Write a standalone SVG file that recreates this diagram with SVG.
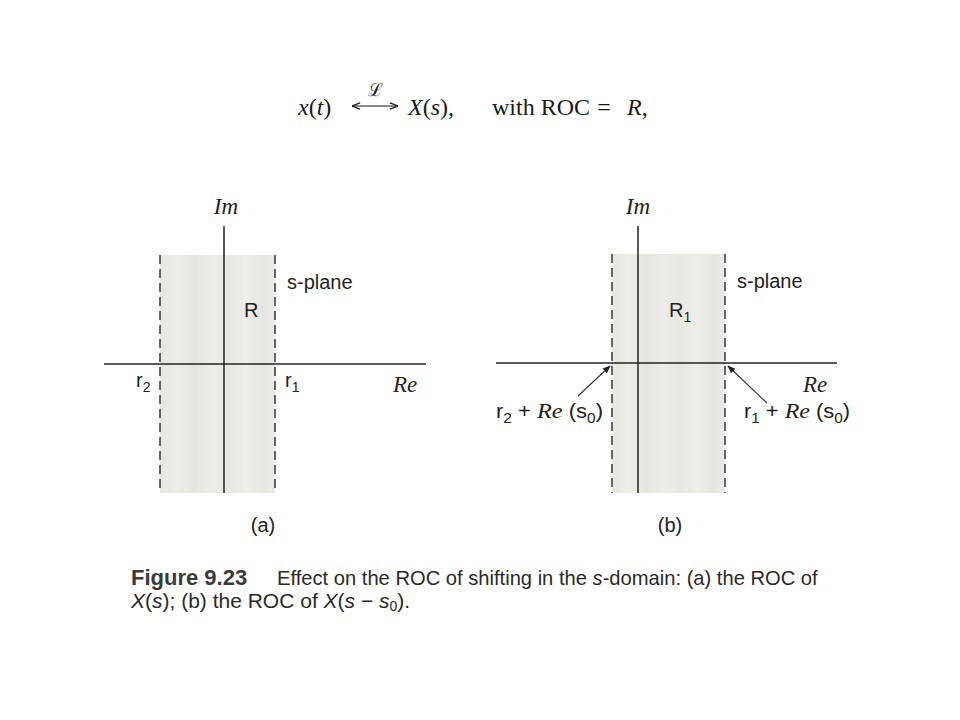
<svg xmlns="http://www.w3.org/2000/svg" width="960" height="720" viewBox="0 0 960 720">
<style>
.serif{font-family:"Liberation Serif","Times New Roman",serif;fill:#1a1a1a}
.it{font-style:italic}
.sans{font-family:"Liberation Sans",Arial,sans-serif;fill:#222}
.lbl{font-size:20px}
.axis{stroke:#222;stroke-width:1.5;fill:none}
.dash{stroke:#2a2a2a;stroke-width:1.4;stroke-dasharray:9 5;fill:none}
.scr{font-family:"Liberation Serif","DejaVu Serif",serif;font-style:italic;font-size:23px;fill:#222}
.ptr{stroke:#333;stroke-width:1.1;fill:none}
.cap{font-family:"Liberation Sans",Arial,sans-serif;font-size:21px;fill:#2a2a2a}
</style>
<defs>
<linearGradient id="shade" x1="0" y1="0" x2="1" y2="0">
<stop offset="0" stop-color="#e6e6e2"/>
<stop offset="0.15" stop-color="#eeeee8"/>
<stop offset="0.3" stop-color="#e4e4e0"/>
<stop offset="0.45" stop-color="#ececea"/>
<stop offset="0.6" stop-color="#e8e8e2"/>
<stop offset="0.75" stop-color="#eeeee9"/>
<stop offset="0.9" stop-color="#e5e5e2"/>
<stop offset="1" stop-color="#ebebe6"/>
</linearGradient>
<marker id="ah" viewBox="0 0 10 10" refX="9" refY="5" markerWidth="8" markerHeight="8" orient="auto-start-reverse" markerUnits="userSpaceOnUse">
<path d="M0,1 L10,5 L0,9 z" fill="#222"/>
</marker>
<marker id="open" viewBox="0 0 10 10" refX="10" refY="5" markerWidth="9" markerHeight="9" orient="auto-start-reverse" markerUnits="userSpaceOnUse">
<path d="M1,1.5 L10,5 L1,8.5" fill="none" stroke="#1a1a1a" stroke-width="1.3"/>
</marker>
</defs>
<rect width="960" height="720" fill="#ffffff"/>

<g id="equation">
<text class="serif" font-size="24" x="298" y="115"><tspan class="it">x</tspan>(<tspan class="it">t</tspan>)</text>
<path d="M352,106 H398" stroke="#1a1a1a" stroke-width="1.2" fill="none" marker-start="url(#open)" marker-end="url(#open)"/>
<text x="375" y="96" font-size="18" text-anchor="middle" font-family="DejaVu Serif,serif" fill="#1a1a1a">ℒ</text>
<text class="serif" font-size="24" x="408" y="115"><tspan class="it">X</tspan>(<tspan class="it">s</tspan>),</text>
<text class="serif" font-size="24" x="492" y="115">with ROC</text>
<text class="serif" font-size="24" x="604" y="115" text-anchor="middle">=</text>
<text class="serif" font-size="24" x="627" y="115"><tspan class="it">R</tspan>,</text>
</g>

<g id="panel-a">
<rect x="160" y="255" width="115" height="238" fill="url(#shade)"/>
<line class="axis" x1="224" y1="226" x2="224" y2="493"/>
<line class="axis" x1="104" y1="364" x2="426" y2="364"/>
<line class="dash" x1="160" y1="255" x2="160" y2="493"/>
<line class="dash" x1="275" y1="255" x2="275" y2="493"/>
<text class="scr" x="226" y="214" text-anchor="middle">Im</text>
<text class="sans lbl" x="287" y="289">s-plane</text>
<text class="sans lbl" x="244" y="317">R</text>
<text class="sans lbl" x="136" y="387">r<tspan font-size="14" dy="5">2</tspan></text>
<text class="sans lbl" x="285" y="387">r<tspan font-size="14" dy="5">1</tspan></text>
<text class="scr" x="393" y="392">Re</text>
<text class="sans lbl" x="263" y="532" text-anchor="middle">(a)</text>
</g>

<g id="panel-b">
<rect x="612" y="254" width="113" height="239" fill="url(#shade)"/>
<line class="axis" x1="638" y1="226" x2="638" y2="493"/>
<line class="axis" x1="496" y1="363" x2="837" y2="363"/>
<line class="dash" x1="612" y1="254" x2="612" y2="493"/>
<line class="dash" x1="725" y1="254" x2="725" y2="493"/>
<text class="scr" x="638" y="214" text-anchor="middle">Im</text>
<text class="sans lbl" x="737" y="288">s-plane</text>
<text class="sans lbl" x="669" y="317">R<tspan font-size="14" dy="5">1</tspan></text>
<text class="scr" x="803" y="392">Re</text>
<text class="sans lbl" x="496" y="418" textLength="107" lengthAdjust="spacingAndGlyphs">r<tspan font-size="14" dy="5">2</tspan><tspan dy="-5"> + </tspan><tspan font-family="Liberation Serif" font-style="italic" font-size="22">Re</tspan> (s<tspan font-size="14" dy="5">0</tspan><tspan dy="-5">)</tspan></text>
<text class="sans lbl" x="744" y="418" textLength="106" lengthAdjust="spacingAndGlyphs">r<tspan font-size="14" dy="5">1</tspan><tspan dy="-5"> + </tspan><tspan font-family="Liberation Serif" font-style="italic" font-size="22">Re</tspan> (s<tspan font-size="14" dy="5">0</tspan><tspan dy="-5">)</tspan></text>
<text class="sans lbl" x="670" y="532" text-anchor="middle">(b)</text>
</g>

<g id="connectors">
<line class="ptr" x1="578" y1="396" x2="610" y2="366" marker-end="url(#ah)"/>
<line class="ptr" x1="767" y1="403" x2="728" y2="366" marker-end="url(#ah)"/>
</g>

<g id="caption">
<text x="131" y="585" font-family="Liberation Sans,Arial,sans-serif" font-weight="bold" font-size="22" fill="#3a3a3a">Figure 9.23</text>
<g transform="translate(277,585) scale(0.96,1)">
<text class="cap" x="0" y="0">Effect on the ROC of shifting in the <tspan font-style="italic">s</tspan>-domain: (a) the ROC of</text>
</g>
<text class="cap" x="131" y="608"><tspan font-style="italic">X</tspan>(<tspan font-style="italic">s</tspan>); (b) the ROC of <tspan font-style="italic">X</tspan>(<tspan font-style="italic">s</tspan> − <tspan font-style="italic">s</tspan><tspan font-size="14" dy="3">0</tspan><tspan dy="-3">).</tspan></text>
</g>
</svg>
